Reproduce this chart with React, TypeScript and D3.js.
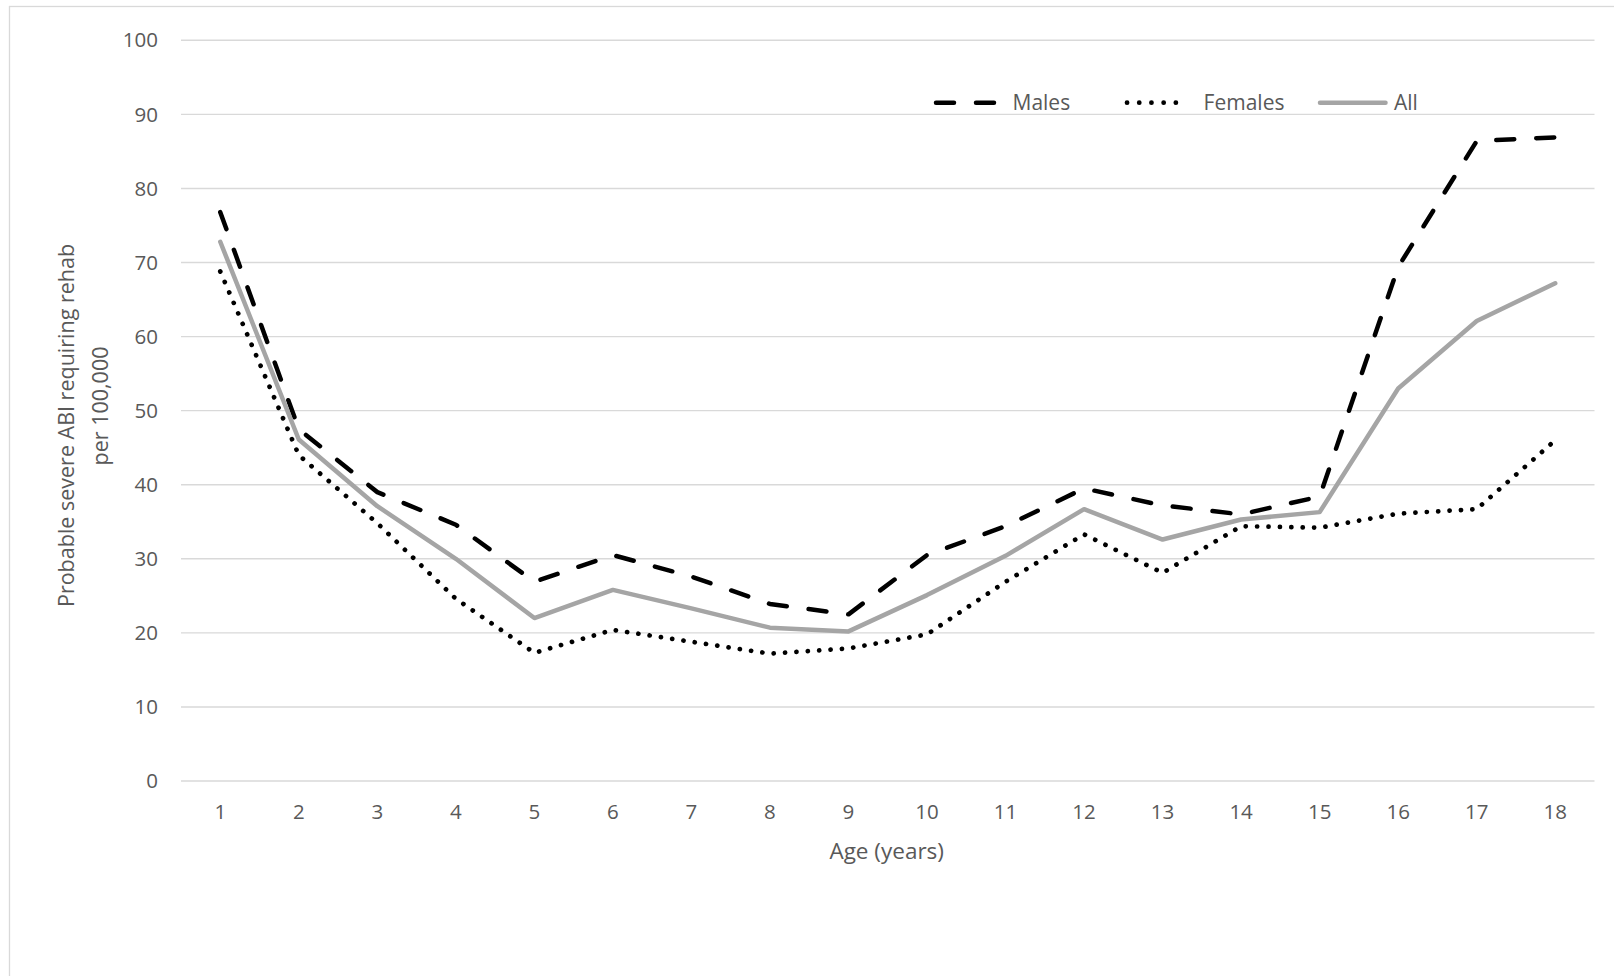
import React from "react";
import * as d3 from "d3";

const ages = ["1","2","3","4","5","6","7","8","9","10","11","12","13","14","15","16","17","18"];
const males = [76.8, 47.5, 39.0, 34.6, 26.9, 30.5, 27.6, 23.9, 22.5, 30.5, 34.4, 39.5, 37.2, 36.0, 38.4, 69.4, 86.4, 86.9];
const females = [68.8, 44.0, 34.8, 24.6, 17.3, 20.4, 18.8, 17.2, 17.9, 19.8, 26.9, 33.3, 28.1, 34.4, 34.2, 36.1, 36.7, 46.0];
const allValues = [72.8, 46.1, 37.1, 30.0, 22.0, 25.8, 23.3, 20.7, 20.2, 25.1, 30.4, 36.7, 32.6, 35.3, 36.3, 53.0, 62.1, 67.2];
const yTicks = [0, 10, 20, 30, 40, 50, 60, 70, 80, 90, 100];
const seriesNames = ["Males", "Females", "All"];

const W = 1614;
const H = 976;
const FONT = "'Open Sans', sans-serif";
const TEXT = "#595959";

export default function App() {
  const x = d3.scalePoint<string>().domain(ages).range([181, 1594.5]).padding(0.5);
  const y = d3.scaleLinear().domain([0, 100]).range([781, 40.3]);

  const line = d3
    .line<number>()
    .x((_, i) => x(ages[i]) as number)
    .y((d) => y(d));

  const styles = [
    { data: males, stroke: "#000000", width: 4.5, dash: "18 22", legendDash: "18 22" },
    { data: females, stroke: "#000000", width: 4.7, dash: "0.1 11.3", legendDash: "0.1 12.1" },
    { data: allValues, stroke: "#A5A5A5", width: 4.5, dash: "none", legendDash: "none" },
  ];

  const legend = [
    { x1: 936, x2: 995, tx: 1012.5 },
    { x1: 1127, x2: 1188, tx: 1203.6 },
    { x1: 1320, x2: 1385.5, tx: 1394 },
  ];
  const legendY = 102.7;

  return (
    <svg
      width={W}
      height={H}
      style={{ position: "absolute", left: 0, top: 0, background: "#fff" }}
      fontFamily={FONT}
    >
      <rect x={0} y={0} width={W} height={H} fill="#fff" />
      <rect x={9.5} y={6.5} width={W + 10} height={H + 10} fill="none" stroke="#d9d9d9" strokeWidth={1.3} />

      {yTicks.map((t) => (
        <g key={t}>
          <line x1={181} x2={1594.5} y1={y(t)} y2={y(t)} stroke="#d9d9d9" strokeWidth={1.4} />
          <text x={158} y={y(t)} dy="0.35em" textAnchor="end" fontSize={20.5} fill={TEXT}>
            {t}
          </text>
        </g>
      ))}

      {ages.map((a) => (
        <text key={a} x={x(a)} y={811.7} dy="0.35em" textAnchor="middle" fontSize={20.5} fill={TEXT}>
          {a}
        </text>
      ))}

      <text x={886.7} y={858.5} textAnchor="middle" fontSize={22.5} fill={TEXT}>
        Age (years)
      </text>

      <text transform="translate(66,425.5) rotate(-90)" textAnchor="middle" dy="0.35em" fontSize={21.5} fill={TEXT}>
        Probable severe ABI requiring rehab
      </text>
      <text transform="translate(100,406) rotate(-90)" textAnchor="middle" dy="0.35em" fontSize={21.5} fill={TEXT}>
        per 100,000
      </text>

      {styles.map((s, i) => (
        <path
          key={i}
          d={line(s.data) as string}
          fill="none"
          stroke={s.stroke}
          strokeWidth={s.width}
          strokeDasharray={s.dash}
          strokeLinecap="round"
          strokeLinejoin="round"
        />
      ))}

      {seriesNames.map((n, i) => (
        <g key={n}>
          <line
            x1={legend[i].x1}
            x2={legend[i].x2}
            y1={legendY}
            y2={legendY}
            stroke={styles[i].stroke}
            strokeWidth={styles[i].width}
            strokeDasharray={styles[i].legendDash}
            strokeLinecap="round"
          />
          <text x={legend[i].tx} y={legendY} dy="0.35em" fontSize={21} fill={TEXT}>
            {n}
          </text>
        </g>
      ))}
    </svg>
  );
}
